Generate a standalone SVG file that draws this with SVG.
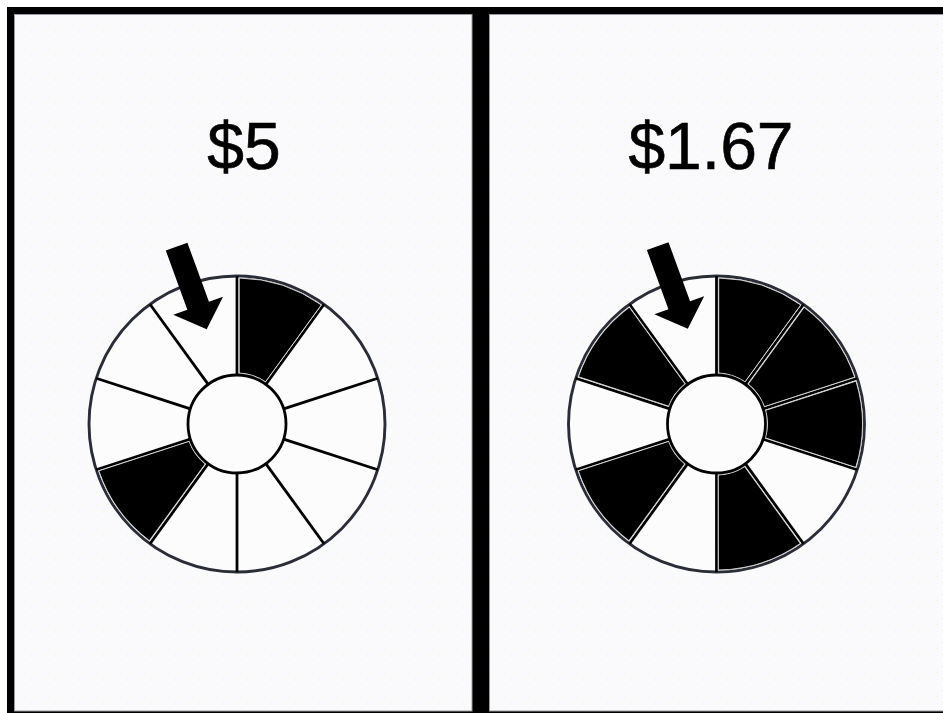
<svg xmlns="http://www.w3.org/2000/svg" xmlns:xlink="http://www.w3.org/1999/xlink" width="943" height="713" viewBox="0 0 943 713">
<style>
.panel{fill:#fafafd;stroke:#9a9aa0;stroke-width:1}
.dots{fill:url(#dot)}
.rim{fill:#fcfcfd;stroke:#2a2d38;stroke-width:2.9}
.hub{fill:#fcfcfd;stroke:#000;stroke-width:2.8}
.spoke{stroke:#000;stroke-width:2.8;fill:none}
.wedge{fill:#000;stroke:#d6d6d6;stroke-width:1}
.pointer{fill:#000}
.price{font-family:"Liberation Sans",Arial,sans-serif;font-size:66px;fill:#000;stroke:#000;stroke-width:0.6;text-anchor:middle}
</style>
<defs>
<pattern id="dot" width="12" height="12" patternUnits="userSpaceOnUse">
<rect x="0" y="0" width="1" height="1" fill="#f4f4c4"/>
<rect x="6" y="6" width="1" height="1" fill="#f4f4c4"/>
</pattern>
<line id="sp" class="spoke" x1="0" y1="-49" x2="0" y2="-148"/>
<path id="wg" class="wedge" d="M2.2,-145.99 A146,146 0 0 1 84.3,-119.1 L28.5,-42.2 A51,51 0 0 0 2.2,-50.96 Z"/>
<polygon id="arr" class="pointer" points="0,0 -26.5,-25 -11.5,-25 -11.5,-88 11.5,-88 11.5,-25 26.5,-25"/>
</defs>
<rect x="0" y="0" width="943" height="713" fill="#ffffff"/>
<rect x="7" y="7" width="936" height="706" fill="#000"/>
<g id="panel-left">
<rect class="panel" x="14.5" y="14.5" width="457.5" height="696.5"/>
<rect class="dots" x="15" y="15" width="457" height="696"/>
</g>
<g id="panel-right">
<rect class="panel" x="489.5" y="14.5" width="454" height="696.5"/>
<rect class="dots" x="490" y="15" width="453" height="696"/>
</g>
<g id="label-left"><text class="price" x="244" y="169">$5</text></g>
<g id="label-right"><text class="price" x="711" y="169">$1.67</text></g>
<g id="wheel-left" transform="translate(237,424)">
<circle class="rim" r="148"/>
<use xlink:href="#sp" transform="rotate(0)"/>
<use xlink:href="#sp" transform="rotate(36)"/>
<use xlink:href="#sp" transform="rotate(72)"/>
<use xlink:href="#sp" transform="rotate(108)"/>
<use xlink:href="#sp" transform="rotate(144)"/>
<use xlink:href="#sp" transform="rotate(180)"/>
<use xlink:href="#sp" transform="rotate(216)"/>
<use xlink:href="#sp" transform="rotate(252)"/>
<use xlink:href="#sp" transform="rotate(288)"/>
<use xlink:href="#sp" transform="rotate(324)"/>
<use xlink:href="#wg" transform="rotate(0)"/>
<use xlink:href="#wg" transform="rotate(216)"/>
<circle class="hub" r="49"/>
</g>
<g id="wheel-right" transform="translate(716.5,424)">
<circle class="rim" r="148"/>
<use xlink:href="#sp" transform="rotate(0)"/>
<use xlink:href="#sp" transform="rotate(36)"/>
<use xlink:href="#sp" transform="rotate(72)"/>
<use xlink:href="#sp" transform="rotate(108)"/>
<use xlink:href="#sp" transform="rotate(144)"/>
<use xlink:href="#sp" transform="rotate(180)"/>
<use xlink:href="#sp" transform="rotate(216)"/>
<use xlink:href="#sp" transform="rotate(252)"/>
<use xlink:href="#sp" transform="rotate(288)"/>
<use xlink:href="#sp" transform="rotate(324)"/>
<use xlink:href="#wg" transform="rotate(0)"/>
<use xlink:href="#wg" transform="rotate(36)"/>
<use xlink:href="#wg" transform="rotate(72)"/>
<use xlink:href="#wg" transform="rotate(144)"/>
<use xlink:href="#wg" transform="rotate(216)"/>
<use xlink:href="#wg" transform="rotate(288)"/>
<circle class="hub" r="49"/>
</g>
<g id="pointer-left"><use xlink:href="#arr" transform="translate(206.7,329.3) rotate(-20)"/></g>
<g id="pointer-right"><use xlink:href="#arr" transform="translate(687.8,328.8) rotate(-20)"/></g>
</svg>
